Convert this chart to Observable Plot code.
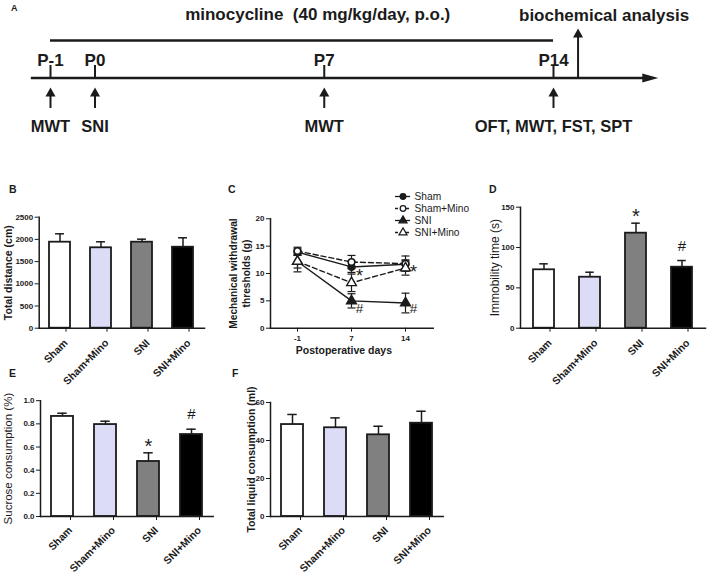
<!DOCTYPE html>
<html><head><meta charset="utf-8">
<script src="https://cdn.jsdelivr.net/npm/d3@7"></script>
<script src="https://cdn.jsdelivr.net/npm/@observablehq/plot@0.6"></script>
<style>
body{margin:0;background:#fff;}
#fig{position:relative;width:708px;height:575px;overflow:hidden;font-family:"Liberation Sans",Arial,sans-serif;background:#fff;}
#fig > svg{position:absolute;}
.lab{position:absolute;font-weight:bold;line-height:1;color:#1b1b1b;}
</style></head><body><div id="fig"></div>
<script>
// ---------- data ----------
const groups = ["Sham", "Sham+Mino", "SNI", "SNI+Mino"];
const groupFill = ["#ffffff", "#dcdcf7", "#808080", "#000000"];

// B: open field total distance (cm)
const distMean = [1937, 1811, 1937, 1824];
const distSem = [189, 135, 68, 212];
// D: forced swim immobility (s)
const immobMean = [72.4, 63.2, 117.8, 75.6];
const immobSem = [7.4, 6.2, 12.4, 8.3];
const immobSig = ["", "", "*", "#"];
// E: sucrose consumption
const sucroseMean = [0.864, 0.794, 0.475, 0.708];
const sucroseSem = [0.028, 0.029, 0.075, 0.046];
const sucroseSig = ["", "", "*", "#"];
// F: total liquid consumption (ml)
const liquidMean = [48.4, 46.7, 43.0, 49.1];
const liquidSem = [5.3, 5.2, 4.5, 6.3];

// C: mechanical withdrawal thresholds (g)
const days = ["-1", "7", "14"];
const mwtSham = [13.9, 11.2, 11.7];
const mwtShamSem = [0.6, 1.0, 0.8];
const mwtShamMino = [14.1, 12.1, 11.8];
const mwtShamMinoSem = [0.7, 1.2, 1.4];
const mwtSNI = [12.2, 5.0, 4.6];
const mwtSNISem = [1.9, 1.3, 1.8];
const mwtSNIMino = [12.2, 8.3, 11.0];
const mwtSNIMinoSem = [1.2, 1.6, 1.3];
const mwtSigLabel = ["*", "#", "*", "#"];
const mwtSigDay = ["7", "7", "14", "14"];
const mwtSigValue = [10.2, 3.6, 10.9, 3.6];

// A: timeline
const timelineDays = [-1, 0, 7, 14];
const timelineLabels = ["P-1", "P0", "P7", "P14"];
const testLabels = ["MWT", "SNI", "MWT", "OFT, MWT, FST, SPT"];
const treatmentSpan = [-1, 14];
const analysisDay = 14.75;
const axisSpan = [-1.43, 17.2];
const treatmentText = "minocycline  (40 mg/kg/day, p.o.)";
const analysisText = "biochemical analysis";

// ---------- styles ----------
const ink = "#1b1b1b";
const FONT = "'Liberation Sans', Arial, sans-serif";
const seriesSymbol = ["circle", "circle", "triangle", "triangle"];
const seriesOpen = [false, true, false, true];
const seriesDash = [false, true, false, true];
const fig = document.getElementById("fig");
function place(el, left, top) { el.style.left = left + "px"; el.style.top = top + "px"; fig.appendChild(el); }
function letter(t, left, top, size) {
  const d = document.createElement("div"); d.className = "lab"; d.textContent = t;
  d.style.left = left + "px"; d.style.top = top + "px"; d.style.fontSize = size + "px"; fig.appendChild(d);
}
const baseStyle = {fontFamily: FONT, background: "transparent", color: ink, overflow: "visible"};

// panel letters
letter("A", 11, 4, 9);
letter("B", 9, 184, 10.5);
letter("C", 228, 184, 10.5);
letter("D", 489, 184, 10.5);
letter("E", 9, 368, 10.5);
letter("F", 232, 368, 10.5);

// ---------- A ----------
// the pre-operative day is drawn with a wider gap than the post-operative days
const preStretch = 1.359;
const tl = d => (d < 0 ? d * preStretch : d);
const rows = {title: 14, bar: 40, label: 60, tickTop: 65, axis: 77.5, arrowTip: 87, arrowBase: 108, caption: 126.5, bioTip: 28};
const headUp = {draw(c) { c.moveTo(0, 0); c.lineTo(5, 9); c.lineTo(-5, 9); c.closePath(); }};
const headRight = {draw(c) { c.moveTo(0, 0); c.lineTo(-16, -4.5); c.lineTo(-16, 4.5); c.closePath(); }};
{
  const X = d => tl(d);
  const svg = Plot.plot({
    width: 708, height: 145, margin: 0,
    x: {domain: [tl(-1), 14], range: [50, 553], axis: null},
    y: {domain: [0, 145], range: [0, 145], axis: null},
    style: baseStyle,
    marks: [
      Plot.text([treatmentText], {x: 6.8, y: rows.title, text: d => d, fontSize: 17, fontWeight: "bold", fill: ink}),
      Plot.text([analysisText], {x: tl(analysisDay), y: rows.title + 1, text: d => d, dx: 26, fontSize: 17, fontWeight: "bold", fill: ink}),
      Plot.ruleY([rows.bar], {y: d => d, x1: tl(treatmentSpan[0]), x2: tl(treatmentSpan[1]), stroke: ink, strokeWidth: 2.5}),
      Plot.ruleY([rows.axis], {y: d => d, x1: tl(axisSpan[0]), x2: tl(axisSpan[1]) - 0.3, stroke: ink, strokeWidth: 2.5}),
      Plot.dot([axisSpan[1]], {x: X, y: rows.axis, symbol: headRight, fill: ink, stroke: null}),
      Plot.ruleX(timelineDays, {x: X, y1: rows.tickTop, y2: rows.axis, stroke: ink, strokeWidth: 2}),
      Plot.text(timelineDays, {x: X, y: rows.label, text: (d, i) => timelineLabels[i], fontSize: 17, fontWeight: "bold", fill: ink}),
      Plot.ruleX([analysisDay], {x: X, y1: rows.bioTip + 8, y2: rows.axis, stroke: ink, strokeWidth: 2}),
      Plot.dot([analysisDay], {x: X, y: rows.bioTip, symbol: headUp, fill: ink, stroke: null}),
      Plot.ruleX(timelineDays, {x: X, y1: rows.arrowTip + 8, y2: rows.arrowBase, stroke: ink, strokeWidth: 2}),
      Plot.dot(timelineDays, {x: X, y: rows.arrowTip, symbol: headUp, fill: ink, stroke: null}),
      Plot.text(timelineDays, {x: X, y: rows.caption, text: (d, i) => testLabels[i], fontSize: 16.5, fontWeight: "bold", fill: ink})
    ]
  });
  place(svg, 0, 0);
}

// ---------- bar panels ----------
function barPanel(o) {
  const data = groups.map((g, i) => ({group: g, mean: o.mean[i], hi: o.mean[i] + o.sem[i], fill: groupFill[i], sig: o.sig ? o.sig[i] : ""}));
  const step = (o.width - o.mL - o.mR) / groups.length;
  const capInset = (step * (1 - o.pi) - 9) / 2;
  const marks = [
    Plot.barY(data, {x: "group", y: "mean", fill: "fill", stroke: ink, strokeWidth: 1.8}),
    Plot.ruleX(data, {x: "group", y1: "mean", y2: "hi", stroke: ink, strokeWidth: 1.5}),
    Plot.tickY(data, {x: "group", y: "hi", stroke: ink, strokeWidth: 1.5, insetLeft: capInset, insetRight: capInset}),
    Plot.frame({anchor: "left", stroke: ink, strokeWidth: 1.5}),
    Plot.frame({anchor: "bottom", stroke: ink, strokeWidth: 1.5}),
    Plot.axisY({ticks: o.ticks, tickFormat: o.format, tickSize: 4, tickPadding: 2, fontSize: 8, fontWeight: "bold", label: null}),
    Plot.axisX({tickRotate: -45, tickSize: 4, tickPadding: o.xPad ?? 9, dx: o.xDx ?? 6, fontSize: 10.5, fontWeight: "bold", label: null}),
    Plot.text([o.label], {frameAnchor: "left", dx: o.labelDx, rotate: -90, textAnchor: "middle", text: d => d, fontSize: o.labelSize, fontWeight: o.labelWeight, fill: ink})
  ];
  if (o.sig) {
    marks.push(Plot.text(data.filter(d => d.sig === "*"), {x: "group", y: "hi", text: "sig", dy: o.starDy, fontSize: 20, fill: ink}));
    marks.push(Plot.text(data.filter(d => d.sig === "#"), {x: "group", y: "hi", text: "sig", dy: o.hashDy, fontSize: 15, fill: ink}));
  }
  const svg = Plot.plot({
    width: o.width, height: o.height,
    marginLeft: o.mL, marginRight: o.mR, marginTop: o.mT, marginBottom: o.mB,
    x: {domain: groups, paddingInner: o.pi, paddingOuter: o.pi / 2},
    y: {domain: o.yDomain},
    color: {type: "identity"},
    style: baseStyle,
    marks
  });
  place(svg, o.left, o.top);
}

barPanel({mean: distMean, sem: distSem, yDomain: [0, 2500], ticks: [0, 500, 1000, 1500, 2000, 2500], format: d3.format("d"),
  label: "Total distance (cm)", labelSize: 10.5, labelWeight: "bold", labelDx: -31,
  left: 0, top: 180, width: 215, height: 195, mL: 38.7, mR: 11, mT: 36.7, mB: 47.3, pi: 0.49});

barPanel({mean: immobMean, sem: immobSem, sig: immobSig, yDomain: [0, 150], ticks: [0, 50, 100, 150], format: d3.format("d"),
  label: "Immobility time (s)", labelSize: 12, labelWeight: "normal", labelDx: -25, starDy: -7, hashDy: -14,
  left: 462, top: 180, width: 246, height: 195, mL: 58, mR: 3, mT: 26.7, mB: 47.3, pi: 0.535});

barPanel({mean: sucroseMean, sem: sucroseSem, sig: sucroseSig, yDomain: [0, 1], ticks: [0, 0.2, 0.4, 0.6, 0.8, 1.0], format: d3.format(".1f"),
  label: "Sucrose consumption (%)", labelSize: 11.5, labelWeight: "normal", labelDx: -31.7, starDy: -6, hashDy: -15,
  xPad: 8, xDx: 8,
  left: 0, top: 385, width: 225, height: 190, mL: 40, mR: 12.3, mT: 15.2, mB: 59, pi: 0.5});

barPanel({mean: liquidMean, sem: liquidSem, yDomain: [0, 60], ticks: [0, 20, 40, 60], format: d3.format("d"),
  label: "Total liquid consumption (ml)", labelSize: 10.5, labelWeight: "bold", labelDx: -19,
  xPad: 8, xDx: 8,
  left: 230, top: 385, width: 230, height: 190, mL: 40, mR: 17.3, mT: 17, mB: 59, pi: 0.5});

// ---------- C ----------
const capSymbol = {draw(c) { c.moveTo(-4, 0); c.lineTo(4, 0); }};
{
  const means = [mwtSham, mwtShamMino, mwtSNI, mwtSNIMino];
  const sems = [mwtShamSem, mwtShamMinoSem, mwtSNISem, mwtSNIMinoSem];
  const cData = [];
  groups.forEach((g, s) => days.forEach((day, i) => cData.push({
    series: g, day, mean: means[s][i], lo: means[s][i] - sems[s][i], hi: means[s][i] + sems[s][i], s
  })));
  const sig = mwtSigLabel.map((t, i) => ({label: t, day: mwtSigDay[i], value: mwtSigValue[i]}));
  const svg = Plot.plot({
    width: 240, height: 185, marginLeft: 48, marginRight: 29.3, marginTop: 38.3, marginBottom: 37.3,
    x: {type: "point", domain: days, padding: 0.5},
    y: {domain: [0, 20]},
    style: baseStyle,
    marks: [
      Plot.frame({anchor: "left", stroke: ink, strokeWidth: 1.5}),
      Plot.frame({anchor: "bottom", stroke: ink, strokeWidth: 1.5}),
      Plot.axisY({ticks: [0, 5, 10, 15, 20], tickSize: 4, tickPadding: 2, fontSize: 8, fontWeight: "bold", label: null}),
      Plot.axisX({tickSize: 4, tickPadding: 3, fontSize: 8, fontWeight: "bold", label: null}),
      Plot.text(["Mechanical withdrawal\nthresholds (g)"], {frameAnchor: "left", dx: -31, rotate: -90, textAnchor: "middle", text: d => d, fontSize: 10.2, fontWeight: "bold", lineHeight: 1.2, fill: ink}),
      Plot.text(["Postoperative days"], {frameAnchor: "bottom", dx: -8, dy: 26, text: d => d, fontSize: 10.5, fontWeight: "bold", fill: ink}),
      Plot.ruleX(cData, {x: "day", y1: "lo", y2: "hi", stroke: ink, strokeWidth: 1.2}),
      Plot.dot(cData, {x: "day", y: "lo", symbol: capSymbol, fill: "none", stroke: ink, strokeWidth: 1.2}),
      Plot.dot(cData, {x: "day", y: "hi", symbol: capSymbol, fill: "none", stroke: ink, strokeWidth: 1.2}),
      Plot.line(cData.filter(d => !seriesDash[d.s]), {x: "day", y: "mean", z: "series", stroke: ink, strokeWidth: 1.4}),
      Plot.line(cData.filter(d => seriesDash[d.s]), {x: "day", y: "mean", z: "series", stroke: ink, strokeWidth: 1.4, strokeDasharray: "5,3"}),
      Plot.dot(cData.filter(d => seriesSymbol[d.s] === "circle" && !seriesOpen[d.s]), {x: "day", y: "mean", symbol: "circle", r: 3.4, fill: ink, stroke: ink}),
      Plot.dot(cData.filter(d => seriesSymbol[d.s] === "circle" && seriesOpen[d.s]), {x: "day", y: "mean", symbol: "circle", r: 3.3, fill: "white", stroke: ink, strokeWidth: 1.6}),
      Plot.dot(cData.filter(d => seriesSymbol[d.s] === "triangle" && !seriesOpen[d.s]), {x: "day", y: "mean", symbol: "triangle", r: 3.6, fill: ink, stroke: ink}),
      Plot.dot(cData.filter(d => seriesSymbol[d.s] === "triangle" && seriesOpen[d.s]), {x: "day", y: "mean", symbol: "triangle", r: 3.6, fill: "white", stroke: ink, strokeWidth: 1.4}),
      Plot.text(sig.filter(d => d.label === "*"), {x: "day", y: "value", text: "label", dx: 8, dy: 4, fontSize: 18, fill: ink}),
      Plot.text(sig.filter(d => d.label === "#"), {x: "day", y: "value", text: "label", dx: 8, fontSize: 13.5, fill: ink})
    ]
  });
  place(svg, 222, 180);

  // legend
  const leg = groups.map((g, s) => ({g, s}));
  const lsvg = Plot.plot({
    width: 80, height: 70, margin: 0,
    x: {domain: [0, 1], range: [3, 18], axis: null},
    y: {type: "point", domain: groups, range: [8.5, 59], axis: null},
    color: {type: "identity"},
    style: baseStyle,
    marks: [
      Plot.ruleY(leg.filter(d => !seriesDash[d.s]), {y: "g", x1: 0, x2: 1, stroke: ink, strokeWidth: 1.3}),
      Plot.ruleY(leg.filter(d => seriesDash[d.s]), {y: "g", x1: 0, x2: 1, stroke: ink, strokeWidth: 1.3, strokeDasharray: "3,2.5"}),
      Plot.dot(leg.filter(d => seriesSymbol[d.s] === "circle"), {x: 0.5, y: "g", symbol: "circle", r: 2.8, fill: d => seriesOpen[d.s] ? "white" : ink, stroke: ink, strokeWidth: 1.3}),
      Plot.dot(leg.filter(d => seriesSymbol[d.s] === "triangle"), {x: 0.5, y: "g", symbol: "triangle", r: 3, fill: d => seriesOpen[d.s] ? "white" : ink, stroke: ink, strokeWidth: 1.2}),
      Plot.text(leg, {x: 1, y: "g", text: "g", dx: 4, textAnchor: "start", fontSize: 10.2, fill: ink})
    ]
  });
  place(lsvg, 392, 180);
}
</script></body></html>
